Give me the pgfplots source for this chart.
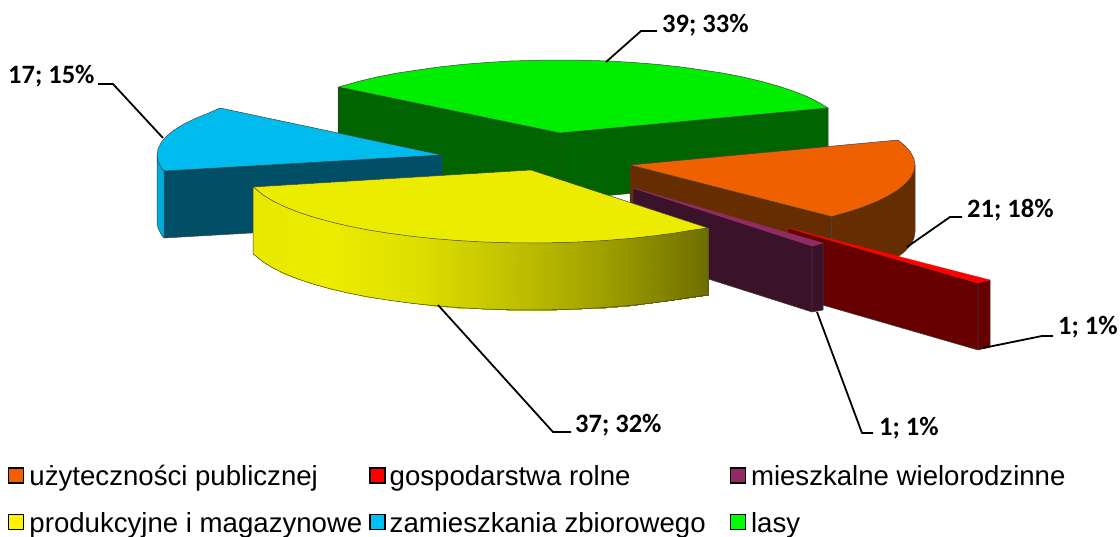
\documentclass[border=0pt]{standalone}
\usepackage{fontspec}
\setmainfont{Liberation Sans}
\newfontfamily\labfont{Carlito}
\usepackage{pgfplots}
\pgfplotsset{compat=1.18}

\definecolor{orangetop}{RGB}{238,96,0}
\definecolor{orangewall}{RGB}{102,46,0}
\definecolor{redtop}{RGB}{255,0,0}
\definecolor{redwall}{RGB}{102,0,0}
\definecolor{purptop}{RGB}{146,42,102}
\definecolor{purpwall}{RGB}{58,19,42}
\definecolor{yellowtop}{RGB}{236,236,0}
\definecolor{bluetop}{RGB}{0,188,238}
\definecolor{bluewall}{RGB}{0,79,102}
\definecolor{blueside}{RGB}{0,172,220}
\definecolor{greentop}{RGB}{0,238,0}
\definecolor{greenwall}{RGB}{0,100,0}
\definecolor{bluekey}{RGB}{0,192,243}

\pgfplotsset{
  face/.style={fill=#1,draw=black!75,line width=0.5pt,line join=round,forget plot},
  leader/.style={black,line width=1.8pt,line join=round,forget plot},
}
\newcommand{\lab}[1]{\labfont\bfseries\fontsize{26.5}{30}\selectfont #1}

\begin{document}
\begin{tikzpicture}
\useasboundingbox (0,0) rectangle (1120pt,536pt);
\begin{axis}[
    at={(0,0)},anchor=south west,
    width=1120pt,height=536pt,scale only axis,
    xmin=0,xmax=1120,ymin=0,ymax=536,
    y dir=reverse,
    hide axis,
    clip=false,
    colormap={yw}{rgb255(253)=(232,232,0) rgb255(330)=(236,236,0) rgb255(420)=(222,222,0) rgb255(520)=(190,190,0) rgb255(600)=(160,160,0) rgb255(708)=(110,110,0)},
    point meta min=253,point meta max=708,
    legend columns=3,
    legend cell align=left,
    legend image code/.code={\draw[#1,draw=black,line width=1.3pt] (0pt,-7pt) rectangle (15pt,8pt);},
    legend style={at={(axis cs:8,465)},anchor=north west,draw=none,fill=none,inner sep=0pt,
      font=\fontsize{27.6}{30}\selectfont,
      nodes={inner sep=0pt,outer sep=0pt},
      /tikz/row sep=25pt,
      /tikz/column 1/.style={column sep=5pt},
      /tikz/column 2/.style={column sep=7pt},
      /tikz/column 3/.style={column sep=4pt},
      /tikz/column 4/.style={column sep=24pt},
      /tikz/column 5/.style={column sep=5pt}},
]
\addlegendimage{fill=orangetop}\addlegendentry{użyteczności publicznej}
\addlegendimage{fill=redtop}\addlegendentry{gospodarstwa rolne}
\addlegendimage{fill=purptop}\addlegendentry{mieszkalne wielorodzinne}
\addlegendimage{fill=yellow}\addlegendentry{produkcyjne i magazynowe}
\addlegendimage{fill=bluekey}\addlegendentry{zamieszkania zbiorowego}
\addlegendimage{fill=green}\addlegendentry{lasy}

% lasy
\addplot[face=greenwall] coordinates {(338,87)(560,133)(560,200)(338,154)} --cycle;
\addplot[face=greenwall] coordinates {(560,133)(828,108)(828,175)(560,200)} --cycle;
\addplot[face=greentop] coordinates {(560,133)(828,108)(818.2,102.1)(807,96.5)(793.4,91.1)(778,86)(761.5,81.4)(743,77)(723.6,73.2)(702.5,70)(680.5,66.9)(657.5,64.4)(633.8,62.5)(609.6,61)(584.8,60.3)(560,60)(535.2,60.3)(510.4,61)(486.2,62.5)(462.5,64.4)(439.5,66.9)(417.5,70)(396.4,73.2)(376.7,77)(358.5,81.4)(338.5,87)} --cycle;

% zamieszkania zbiorowego
\addplot[face=bluewall] coordinates {(164,171)(442,155)(442,222)(164,238)} --cycle;
\addplot[face=blueside] coordinates {(157,155)(158.1,161.4)(161.3,167.7)(164,171)(164,238)(161.3,234.7)(158.1,228.4)(157,222)} --cycle;
\addplot[face=bluetop] coordinates {(442,155)(220,108)(208.6,113.1)(195.2,118.5)(183.8,124.1)(174.1,130)(166.7,136.1)(161.3,142.3)(158.1,148.6)(157,155)(158.1,161.4)(161.3,167.7)(164,171)} --cycle;

% uzytecznosci publicznej
\addplot[face=orangewall] coordinates {(630,165)(831.5,216.6)(831.5,284)(630,232)} --cycle;
\addplot[face=orangewall] coordinates {(915,165)(913.9,171.4)(910.7,177.7)(905.3,183.9)(897.8,190)(888.2,195.9)(876.8,201.5)(863.4,206.9)(848.3,211.9)(831.5,216.6)(831.5,284)(848.3,279)(863.4,274)(876.8,268.5)(888.2,263)(897.8,257)(905.3,251)(910.7,245)(913.9,238.5)(915,232)} --cycle;
\addplot[face=orangetop] coordinates {(630,165)(898,140)(905.3,146)(910.7,152.3)(913.9,158.6)(915,165)(913.9,171.4)(910.7,177.7)(905.3,183.9)(897.8,190)(888.2,195.9)(876.8,201.5)(863.4,206.9)(848.3,211.9)(831.5,216.6)} --cycle;

% gospodarstwa rolne
\addplot[face=redwall] coordinates {(788,228)(978,283)(978,350)(788,295)} --cycle;
\addplot[face=redwall] coordinates {(978,283)(990,280)(990,347)(978,350)} --cycle;
\addplot[fill=redtop,draw=redtop,line width=0.3pt,forget plot] coordinates {(788,228)(990,280)(978,283)} --cycle;

% mieszkalne wielorodzinne
\addplot[face=purpwall] coordinates {(633,188)(812,246)(812,312)(633,255)} --cycle;
\addplot[face=purpwall] coordinates {(812,246)(823,243)(823,310)(812,312)} --cycle;
\addplot[fill=purptop,draw=purptop,line width=0.3pt,forget plot] coordinates {(633,188)(823,243)(812,246)} --cycle;

% produkcyjne i magazynowe
\addplot[surf,shader=interp,mesh/rows=2,point meta=x,forget plot] table {
x y
253 187
255.7 188.9
263.1 195
272.8 198.9
284.2 204.5
297.6 208.9
312.7 213.9
329.5 218.6
347.8 222.9
367.4 226.8
388.5 230.2
410.4 233.1
433.5 235.6
457.2 237.5
481.4 238.9
506.2 239.7
531 240
555.8 239.7
580.5 238.9
604.8 237.5
628.5 235.6
651.6 233.1
673.5 230.2
694.6 227.8
708 228
253 254
255.7 255.9
263.1 262
272.8 267.9
284.2 273.5
297.6 278.9
312.7 283.9
329.5 288.6
347.8 292.9
367.4 296.8
388.5 300.2
410.4 303.1
433.5 305.6
457.2 307.5
481.4 308.9
506.2 309.7
531 310
555.8 309.7
580.5 308.9
604.8 307.5
628.5 305.6
651.6 303.1
673.5 300.2
694.6 296.8
708 295
};
\addplot[draw=black!75,line width=0.5pt,forget plot] coordinates {(253,187)(253,254)(255.7,255.9)(263.1,262)(272.8,267.9)(284.2,273.5)(297.6,278.9)(312.7,283.9)(329.5,288.6)(347.8,292.9)(367.4,296.8)(388.5,300.2)(410.4,303.1)(433.5,305.6)(457.2,307.5)(481.4,308.9)(506.2,309.7)(531,310)(555.8,309.7)(580.5,308.9)(604.8,307.5)(628.5,305.6)(651.6,303.1)(673.5,300.2)(694.6,296.8)(708,295)(708,228)};
\addplot[face=yellowtop] coordinates {(531,170)(708,228)(694.6,229.8)(673.5,233.2)(651.6,236.1)(628.5,238.6)(604.8,240.5)(580.5,241.9)(555.8,242.7)(531,243)(506.2,242.7)(481.4,241.9)(457.2,240.5)(433.5,238.6)(410.4,236.1)(388.5,233.2)(367.4,229.8)(347.8,225.9)(329.5,221.6)(312.7,216.9)(297.6,211.9)(284.2,206.5)(272.8,200.9)(263.1,195)(255.7,188.9)(253,187)} --cycle;

% linie odniesienia
\addplot[leader] coordinates {(606,62)(641,31)(657,31)};
\addplot[leader] coordinates {(163,138)(113,84)(98,84)};
\addplot[leader] coordinates {(907,247)(950,217)(962,217)};
\addplot[leader] coordinates {(983,348)(1042,336)(1053,336)};
\addplot[leader] coordinates {(817,312)(862,433)(873,433)};
\addplot[leader] coordinates {(438,305)(553,432)(571,432)};

\node[anchor=west,inner sep=0pt] at (axis cs:662,25) {\lab{39; 33\%}};
\node[anchor=west,inner sep=0pt] at (axis cs:8,76) {\lab{17; 15\%}};
\node[anchor=west,inner sep=0pt] at (axis cs:967,210) {\lab{21; 18\%}};
\node[anchor=west,inner sep=0pt] at (axis cs:1058,327) {\lab{1; 1\%}};
\node[anchor=west,inner sep=0pt] at (axis cs:575,425) {\lab{37; 32\%}};
\node[anchor=west,inner sep=0pt] at (axis cs:879,428) {\lab{1; 1\%}};
\end{axis}
\end{tikzpicture}
\end{document}
